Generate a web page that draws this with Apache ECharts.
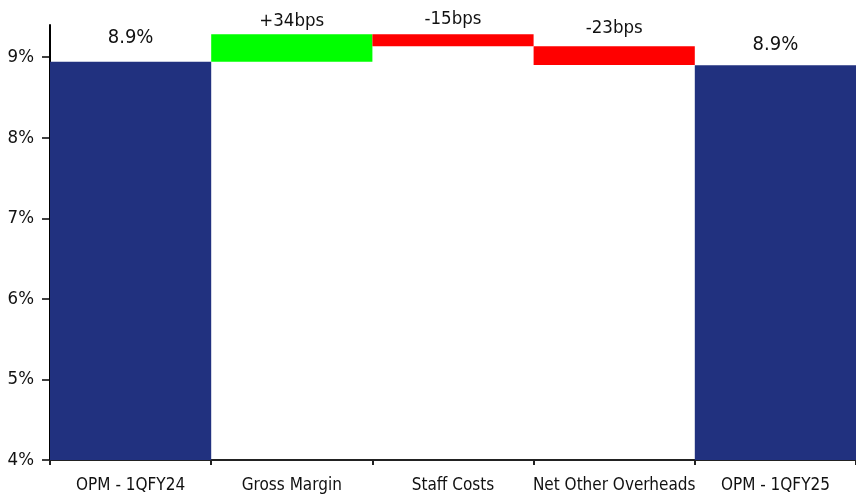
<!DOCTYPE html>
<html>
<head>
<meta charset="utf-8">
<script src="https://cdn.jsdelivr.net/npm/echarts@6/dist/echarts.min.js"></script>
<style>html,body{margin:0;padding:0;background:#fff;}#c{width:856px;height:498px;}</style>
</head>
<body>
<div id="c"></div>
<script>
// Data
var categories = ['OPM - 1QFY24', 'Gross Margin', 'Staff Costs', 'Net Other Overheads', 'OPM - 1QFY25'];
var startValue = 8.945;          // OPM 1QFY24 (%)
var deltas = [0.34, -0.15, -0.23]; // change in percentage points
var endValue = 8.90;             // OPM 1QFY25 (%)
var totalLabels = ['8.9%', '8.9%'];
var deltaLabels = ['+34bps', '-15bps', '-23bps'];
var yTicks = [4, 5, 6, 7, 8, 9];

// Styles (not data)
var labelGaps = [14, 4, 6, 9, 10];
var FONT = '"Liberation Sans Narrow", "Arial Narrow", "DejaVu Sans Condensed", "Liberation Sans", Arial, sans-serif';
var NAVY = '#21317f', GREEN = '#00ff00', RED = '#ff0000';

// Build waterfall
var baseData = [], visData = [];
var level = startValue;
baseData.push(0);
visData.push({value: startValue, itemStyle: {color: NAVY},
  label: {formatter: totalLabels[0], distance: labelGaps[0], fontSize: 20}});
deltas.forEach(function (d, i) {
  var lo = Math.min(level, level + d);
  baseData.push(lo);
  visData.push({value: Math.abs(d), itemStyle: {color: d >= 0 ? GREEN : RED},
    label: {formatter: deltaLabels[i], distance: labelGaps[i + 1], fontSize: 18.5}});
  level += d;
});
baseData.push(0);
visData.push({value: endValue, itemStyle: {color: NAVY},
  label: {formatter: totalLabels[1], distance: labelGaps[4], fontSize: 20}});

var chart = echarts.init(document.getElementById('c'), null, {renderer: 'canvas'});
chart.setOption({
  animation: false,
  textStyle: {fontFamily: FONT},
  grid: {left: 50, top: 25, bottom: 38, width: 812, containLabel: false},
  xAxis: {
    type: 'category', data: categories,
    axisLine: {lineStyle: {color: '#222', width: 2}},
    axisTick: {show: true, alignWithLabel: false, length: 5, lineStyle: {color: '#222', width: 2}},
    axisLabel: {color: '#111', fontSize: 17, fontFamily: FONT, margin: 17, interval: 0}
  },
  yAxis: {
    type: 'value', min: 4, max: 9.4, interval: 1,
    splitLine: {show: false},
    axisLine: {show: true, lineStyle: {color: '#000', width: 2}},
    axisTick: {show: true, length: 8, customValues: yTicks, lineStyle: {color: '#000', width: 1.5}},
    axisLabel: {color: '#111', fontSize: 18.5, fontFamily: FONT, margin: 16, customValues: yTicks,
      formatter: function (v) { return Math.round(v) + '%'; }}
  },
  series: [
    {type: 'bar', stack: 'w', data: baseData, barWidth: '100%', barGap: 0,
     itemStyle: {color: 'transparent'}, silent: true},
    {type: 'bar', stack: 'w', data: visData, barWidth: '100%',
     label: {show: true, position: 'top', color: '#111', fontFamily: FONT}}
  ]
});
</script>
</body>
</html>
